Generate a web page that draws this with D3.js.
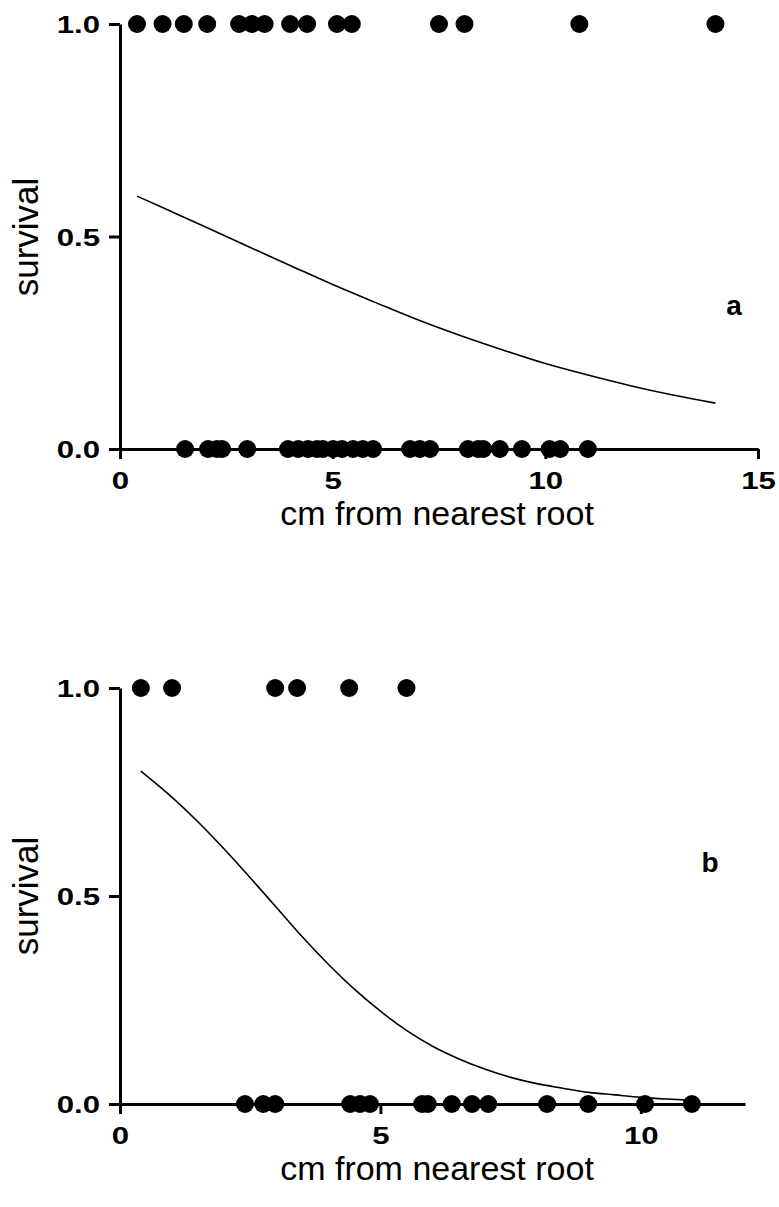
<!DOCTYPE html>
<html><head><meta charset="utf-8">
<script src="https://cdn.jsdelivr.net/npm/d3@7"></script>
<style>body{margin:0;background:#fff}svg{display:block}</style>
</head><body>
<script>
// Panel a data
const aSurvivedX = [0.4, 1.0, 1.5, 2.05, 2.8, 3.1, 3.4, 4.0, 4.4, 5.1, 5.45, 7.5, 8.1, 10.8, 14.0];
const aDiedX = [1.53, 2.07, 2.28, 2.4, 2.99, 3.95, 4.19, 4.42, 4.63, 4.77, 5.01, 5.22, 5.48, 5.71, 5.95, 6.82, 7.05, 7.29, 8.18, 8.42, 8.54, 8.93, 9.45, 10.1, 10.35, 11.0];
const aCurveX = [0.4, 1, 2, 3, 4, 5, 6, 7, 8, 9, 10, 11, 12, 13, 14];
const aCurveY = [0.595, 0.568, 0.523, 0.477, 0.432, 0.387, 0.345, 0.304, 0.267, 0.233, 0.201, 0.174, 0.149, 0.127, 0.108];
const aXTicks = [0, 5, 10, 15];
// Panel b data
const bSurvivedX = [0.4, 1.0, 2.98, 3.4, 4.4, 5.5];
const bDiedX = [2.4, 2.75, 2.98, 4.42, 4.61, 4.8, 5.8, 5.91, 6.37, 6.76, 7.07, 8.2, 8.99, 10.08, 10.98];
const bCurveX = [0.4, 1, 1.5, 2, 2.5, 3, 3.5, 4, 4.5, 5, 5.5, 6, 6.5, 7, 7.5, 8, 8.5, 9, 9.5, 10, 10.5, 11];
const bCurveY = [0.80, 0.737, 0.678, 0.613, 0.544, 0.473, 0.402, 0.336, 0.276, 0.223, 0.177, 0.139, 0.109, 0.084, 0.064, 0.049, 0.038, 0.028, 0.022, 0.016, 0.012, 0.009];
const bXTicks = [0, 5, 10];
const yTicks = [0, 0.5, 1.0];
const xTitle = "cm from nearest root";
const yTitle = "survival";

const svg = d3.select("body").append("svg").attr("width", 779).attr("height", 1207);
const font = "Liberation Sans, Arial, sans-serif";
const sx = 1.3; // horizontal stretch of tick labels

function panel(cfg) {
  const x = d3.scaleLinear().domain(cfg.xDomain).range(cfg.xRange);
  const y = d3.scaleLinear().domain([0, 1]).range(cfg.yRange);
  const g = svg.append("g");

  const xa = g.append("g").attr("transform", `translate(0,${cfg.yRange[0]})`)
    .call(d3.axisBottom(x).tickValues(cfg.xTicks).tickSize(10).tickSizeOuter(0).tickPadding(13).tickFormat(d3.format("d")));
  const ya = g.append("g").attr("transform", `translate(${cfg.xRange[0]},0)`)
    .call(d3.axisLeft(y).tickValues(yTicks).tickSize(11).tickSizeOuter(0).tickPadding(9).tickFormat(d3.format(".1f")));
  [xa, ya].forEach(a => {
    a.selectAll("path.domain").attr("stroke", "#000").attr("stroke-width", 3);
    a.selectAll(".tick line").attr("stroke", "#000").attr("stroke-width", 3);
    a.selectAll(".tick text").attr("fill", "#000").attr("font-family", font)
      .attr("font-weight", "bold").attr("font-size", 24);
  });
  xa.selectAll(".tick text").attr("transform", `scale(${sx},1)`);
  ya.selectAll(".tick text").attr("x", -20 / sx).attr("dy", "0.36em").attr("transform", `scale(${sx},1)`);

  const line = d3.line().x((d, i) => x(cfg.curveX[i])).y(d => y(d)).curve(d3.curveMonotoneX);
  g.append("path").datum(cfg.curveY).attr("d", line)
    .attr("fill", "none").attr("stroke", "#000").attr("stroke-width", 1.6);

  g.selectAll("circle.s").data(cfg.survived).join("circle").attr("class", "s")
    .attr("cx", d => x(d)).attr("cy", y(1)).attr("r", 9).attr("fill", "#000");
  g.selectAll("circle.d").data(cfg.died).join("circle").attr("class", "d")
    .attr("cx", d => x(d)).attr("cy", y(0)).attr("r", 9).attr("fill", "#000");

  g.append("text").attr("x", cfg.xTitlePos[0]).attr("y", cfg.xTitlePos[1])
    .attr("text-anchor", "middle").attr("font-family", font).attr("font-size", 34)
    .text(xTitle);
  g.append("text").attr("transform", `translate(${cfg.yTitlePos[0]},${cfg.yTitlePos[1]}) rotate(-90)`)
    .attr("text-anchor", "middle").attr("font-family", font).attr("font-size", 35)
    .text(yTitle);
  g.append("text").attr("x", cfg.letterPos[0]).attr("y", cfg.letterPos[1])
    .attr("text-anchor", "middle").attr("font-family", font).attr("font-weight", "bold").attr("font-size", 28)
    .text(cfg.letter);
}

panel({xDomain: [0, 15], xRange: [120, 758], yRange: [449, 24], xTicks: aXTicks,
  survived: aSurvivedX, died: aDiedX, curveX: aCurveX, curveY: aCurveY,
  xTitlePos: [437, 525], yTitlePos: [38, 237], letterPos: [734, 315], letter: "a"});
panel({xDomain: [0, 12], xRange: [120, 745], yRange: [1104, 688], xTicks: bXTicks,
  survived: bSurvivedX, died: bDiedX, curveX: bCurveX, curveY: bCurveY,
  xTitlePos: [437, 1180], yTitlePos: [38, 896], letterPos: [710, 872], letter: "b"});
</script>
</body></html>
